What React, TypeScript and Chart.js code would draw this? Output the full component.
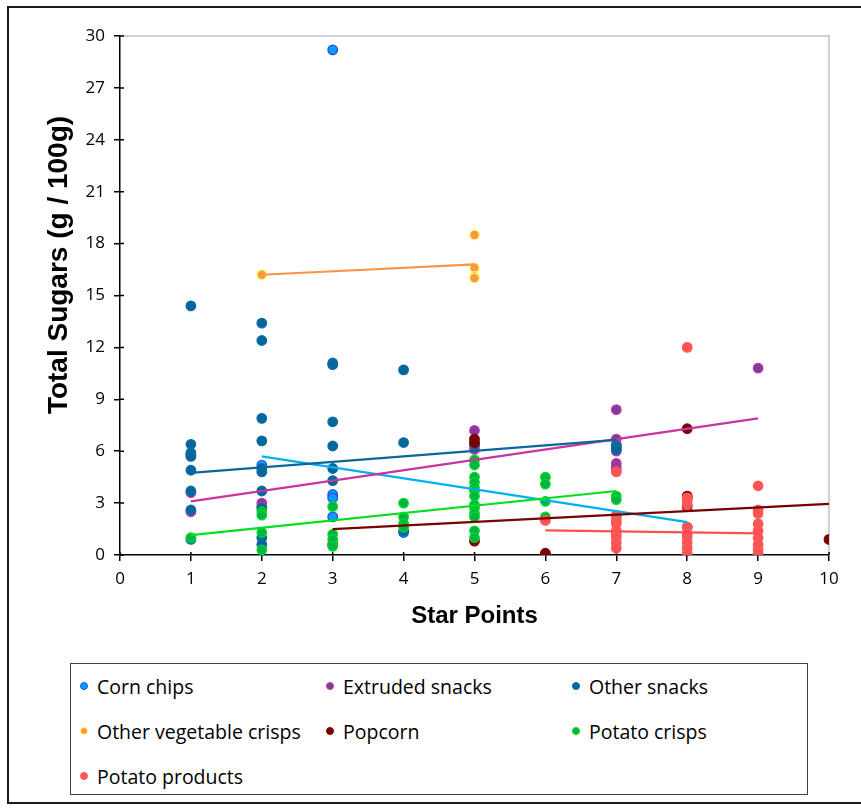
import React, { useEffect, useRef } from "react";
import { Chart, registerables } from "chart.js";

Chart.register(...registerables);

// [star points, total sugars g/100g]
const cornChips: [number, number][] = [
  [2, 5.2], [3, 29.2], [3, 3.5], [3, 3.3], [3, 2.2], [4, 1.3], [8, 1.6],
];
const extrudedSnacks: [number, number][] = [
  [1, 3.6], [1, 2.5], [2, 3.0], [2, 2.8], [5, 7.2], [5, 6.3], [5, 6.1],
  [7, 8.4], [7, 6.7], [7, 6.4], [7, 6.0], [7, 5.3], [7, 5.1], [7, 4.9], [9, 10.8],
];
const otherSnacks: [number, number][] = [
  [1, 14.4], [1, 6.4], [1, 5.9], [1, 5.8], [1, 5.7], [1, 4.9], [1, 3.7], [1, 2.6], [1, 0.9],
  [2, 13.4], [2, 12.4], [2, 7.9], [2, 6.6], [2, 5.0], [2, 4.8], [2, 3.7], [2, 2.7], [2, 1.0], [2, 0.6],
  [3, 11.1], [3, 11.0], [3, 7.7], [3, 6.3], [3, 5.0], [3, 4.3],
  [4, 10.7], [4, 6.5], [4, 1.4], [5, 6.4], [7, 6.3], [7, 6.2], [7, 6.1],
];
const otherVegCrisps: [number, number][] = [
  [2, 16.2], [2, 16.2], [5, 18.5], [5, 16.6], [5, 16.1], [5, 16.0],
];
const popcorn: [number, number][] = [
  [3, 0.6], [5, 6.7], [5, 6.5], [5, 0.8], [6, 0.1], [8, 7.3], [8, 3.4], [8, 3.3], [8, 2.8], [10, 0.9],
];
const potatoCrisps: [number, number][] = [
  [1, 1.0], [2, 2.5], [2, 2.3], [2, 1.3], [2, 0.3], [3, 2.8], [3, 1.2], [3, 0.9], [3, 0.5],
  [4, 3.0], [4, 2.2], [4, 1.8], [4, 1.6],
  [5, 5.5], [5, 5.2], [5, 4.5], [5, 4.2], [5, 3.9], [5, 3.7], [5, 3.4], [5, 2.9], [5, 2.7],
  [5, 2.4], [5, 2.2], [5, 1.4], [5, 1.0],
  [6, 4.5], [6, 4.1], [6, 3.1], [6, 2.2], [7, 3.4], [7, 3.2], [7, 2.2],
];
const potatoProducts: [number, number][] = [
  [6, 2.0], [7, 4.8], [7, 2.3], [7, 2.0], [7, 1.8], [7, 1.4], [7, 1.2], [7, 1.0], [7, 0.7], [7, 0.4],
  [8, 12.0], [8, 3.3], [8, 3.1], [8, 2.9], [8, 1.6], [8, 1.2], [8, 1.0], [8, 0.7], [8, 0.4], [8, 0.1], [8, 0.0],
  [9, 4.0], [9, 2.6], [9, 2.4], [9, 1.8], [9, 1.4], [9, 1.0], [9, 0.6], [9, 0.3], [9, 0.1],
];

// Linear trend line end points for each category
const cornChipsTrend: [number, number][] = [[2, 5.7], [8, 1.9]];
const extrudedTrend: [number, number][] = [[1, 3.1], [9, 7.9]];
const otherSnacksTrend: [number, number][] = [[1, 4.75], [7, 6.65]];
const otherVegTrend: [number, number][] = [[2, 16.2], [5, 16.8]];
const popcornTrend: [number, number][] = [[3, 1.5], [10, 2.95]];
const potatoCrispsTrend: [number, number][] = [[1, 1.15], [7, 3.7]];
const potatoProductsTrend: [number, number][] = [[6, 1.42], [9, 1.25]];

const xTickValues = [0, 1, 2, 3, 4, 5, 6, 7, 8, 9, 10];
const yTickValues = [0, 3, 6, 9, 12, 15, 18, 21, 24, 27, 30];

const xTitle = "Star Points";
const yTitle = "Total Sugars (g / 100g)";

type Series = {
  label: string;
  points: [number, number][];
  trend: [number, number][];
  fill: string;
  edge: string;
  line: string;
};

const series: Series[] = [
  { label: "Corn chips", points: cornChips, trend: cornChipsTrend, fill: "#0A9BFF", edge: "#1F4FE8", line: "#00B0F0" },
  { label: "Extruded snacks", points: extrudedSnacks, trend: extrudedTrend, fill: "#7F3A9E", edge: "#C23AA3", line: "#C8359F" },
  { label: "Other snacks", points: otherSnacks, trend: otherSnacksTrend, fill: "#00679C", edge: "#0A6CA0", line: "#0B679B" },
  { label: "Other vegetable crisps", points: otherVegCrisps, trend: otherVegTrend, fill: "#F7964A", edge: "#FFFF66", line: "#F7964A" },
  { label: "Popcorn", points: popcorn, trend: popcornTrend, fill: "#7A0000", edge: "#800000", line: "#7A0000" },
  { label: "Potato crisps", points: potatoCrisps, trend: potatoCrispsTrend, fill: "#00B347", edge: "#00DF22", line: "#00E01C" },
  { label: "Potato products", points: potatoProducts, trend: potatoProductsTrend, fill: "#FF5252", edge: "#FF5A5A", line: "#FF5050" },
];

const legendColumns = [80, 326, 572];
const legendRows = [686, 731, 776];

const axisFrame = {
  id: "axisFrame",
  beforeDatasetsDraw(chart: any) {
    const { ctx, chartArea, scales } = chart;
    const { left, right, top, bottom } = chartArea;
    ctx.save();
    // light plot-area outline on the top and right
    ctx.strokeStyle = "#C4C4C4";
    ctx.lineWidth = 1.5;
    ctx.beginPath();
    ctx.moveTo(left, top);
    ctx.lineTo(right, top);
    ctx.lineTo(right, bottom);
    ctx.stroke();
    // short inner halves of the cross tick marks
    ctx.strokeStyle = "#000";
    ctx.lineWidth = 1.5;
    ctx.beginPath();
    scales.x.ticks.forEach((t: any) => {
      const px = scales.x.getPixelForValue(t.value);
      ctx.moveTo(px, bottom);
      ctx.lineTo(px, bottom - 3);
    });
    scales.y.ticks.forEach((t: any) => {
      const py = scales.y.getPixelForValue(t.value);
      ctx.moveTo(left, py);
      ctx.lineTo(left + 4, py);
    });
    ctx.stroke();
    ctx.restore();
  },
  afterDraw(chart: any) {
    const { ctx } = chart;
    ctx.save();
    ctx.translate(59, 265);
    ctx.rotate(-Math.PI / 2);
    ctx.font = 'bold 28px "Liberation Sans", Arial, sans-serif';
    ctx.fillStyle = "#000";
    ctx.textAlign = "center";
    ctx.textBaseline = "middle";
    ctx.fillText(yTitle, 0, 0);
    ctx.restore();
  },
};

export default function App() {
  const canvasRef = useRef<HTMLCanvasElement>(null);

  useEffect(() => {
    if (!canvasRef.current) return;
    const n = series.length;
    const pointSets = series.map((s, i) => ({
      type: "scatter" as const,
      label: s.label,
      data: s.points.map(([x, y]) => ({ x, y })),
      backgroundColor: s.fill,
      borderColor: s.edge,
      borderWidth: 1.2,
      pointRadius: 4.8,
      showLine: false,
      order: 2 * n - i,
    }));
    const trendSets = series.map((s, i) => ({
      type: "scatter" as const,
      label: s.label + " trend",
      data: s.trend.map(([x, y]) => ({ x, y })),
      borderColor: s.line,
      backgroundColor: s.line,
      borderWidth: 2.2,
      pointRadius: 0,
      showLine: true,
      order: n - i,
    }));

    const chart = new Chart(canvasRef.current, {
      type: "scatter",
      data: { datasets: [...pointSets, ...trendSets] as any },
      options: {
        animation: false,
        responsive: false,
        devicePixelRatio: 1,
        layout: { padding: { left: 10, top: 36, right: 32, bottom: 9 } },
        plugins: { legend: { display: false }, tooltip: { enabled: false } },
        scales: {
          x: {
            type: "linear",
            min: 0,
            max: 10,
            afterBuildTicks: (scale: any) => {
              scale.ticks = xTickValues.map((v) => ({ value: v }));
            },
            afterFit: (scale: any) => {
              scale.height = 76;
            },
            ticks: {
              color: "#000",
              padding: 8,
              maxRotation: 0,
              font: { family: '"Open Sans", sans-serif', size: 17 },
            },
            grid: { drawOnChartArea: false, drawTicks: true, tickLength: 6, color: "#000", lineWidth: 1.5 },
            border: { display: true, color: "#000", width: 1.5 },
            title: {
              display: true,
              text: xTitle,
              color: "#000",
              padding: 0,
              font: { family: '"Liberation Sans", Arial, sans-serif', size: 24, weight: "bold" },
            },
          },
          y: {
            type: "linear",
            min: 0,
            max: 30,
            afterBuildTicks: (scale: any) => {
              scale.ticks = yTickValues.map((v) => ({ value: v }));
            },
            afterFit: (scale: any) => {
              scale.width = 110;
            },
            ticks: {
              color: "#000",
              padding: 9,
              font: { family: '"Open Sans", sans-serif', size: 17 },
            },
            grid: { drawOnChartArea: false, drawTicks: true, tickLength: 6, color: "#000", lineWidth: 1.5 },
            border: { display: true, color: "#000", width: 1.5 },
          },
        },
      },
      plugins: [axisFrame],
    });
    return () => chart.destroy();
  }, []);

  return (
    <div
      style={{
        position: "absolute",
        left: 0,
        top: 0,
        width: 861,
        height: 808,
        overflow: "hidden",
        background: "#fff",
      }}
    >
      <div
        style={{
          position: "absolute",
          left: 7,
          top: 6,
          width: 900,
          height: 798,
          border: "2px solid #1a1a1a",
          boxSizing: "border-box",
        }}
      />
      <canvas
        ref={canvasRef}
        width={861}
        height={640}
        style={{ position: "absolute", left: 0, top: 0, width: 861, height: 640 }}
      />
      <div
        style={{
          position: "absolute",
          left: 70,
          top: 663,
          width: 738,
          height: 132,
          border: "1.5px solid #404040",
          boxSizing: "border-box",
        }}
      />
      {series.map((s, i) => {
        const cx = legendColumns[i % 3];
        const cy = legendRows[Math.floor(i / 3)];
        return (
          <div
            key={s.label}
            style={{
              position: "absolute",
              left: cx,
              top: cy - 14,
              height: 28,
              display: "flex",
              alignItems: "center",
              whiteSpace: "nowrap",
              fontFamily: '"Open Sans", sans-serif',
              fontSize: 19.5,
              color: "#000",
            }}
          >
            <span
              style={{
                display: "inline-block",
                width: 8,
                height: 8,
                borderRadius: "50%",
                background: s.fill,
                border: `1px solid ${s.edge}`,
                marginRight: 9,
                boxSizing: "border-box",
              }}
            />
            <span>{s.label}</span>
          </div>
        );
      })}
    </div>
  );
}
